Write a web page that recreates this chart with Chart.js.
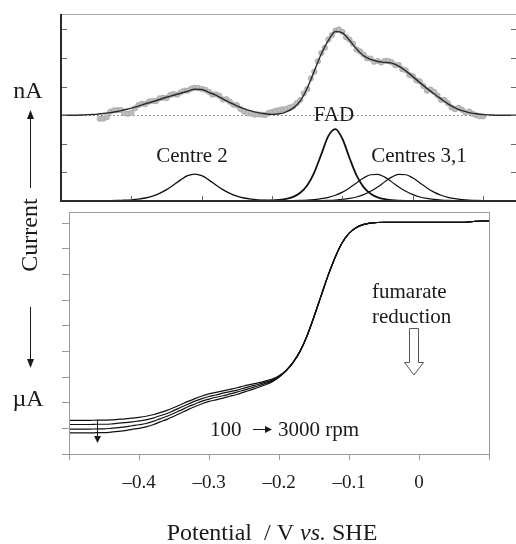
<!DOCTYPE html>
<html>
<head>
<meta charset="utf-8">
<script src="https://cdn.jsdelivr.net/npm/chart.js@4.4.1/dist/chart.umd.min.js"></script>
<style>
  html, body { margin: 0; padding: 0; background: #fff; overflow: hidden; }
  #wrap { position: relative; width: 516px; height: 544px; overflow: hidden; }
  canvas { position: absolute; left: 0; top: 0; }
</style>
</head>
<body>
<div id="wrap">
  <canvas id="topChart" width="530" height="544"></canvas>
  <canvas id="bottomChart" width="516" height="544"></canvas>
</div>
<script>
// ---- top panel: baseline-subtracted voltammogram (nA) ----
const gridE = [
  -0.50, -0.49, -0.48, -0.47, -0.46, -0.45, -0.44, -0.43, -0.42, -0.41,
  -0.40, -0.39, -0.38, -0.37, -0.36, -0.35, -0.34, -0.33, -0.32, -0.31,
  -0.30, -0.29, -0.28, -0.27, -0.26, -0.25, -0.24, -0.23, -0.22, -0.21,
  -0.20, -0.19, -0.18, -0.17, -0.16, -0.15, -0.14, -0.13, -0.12, -0.11,
  -0.10, -0.09, -0.08, -0.07, -0.06, -0.05, -0.04, -0.03, -0.02, -0.01,
  0.00, 0.01, 0.02, 0.03, 0.04, 0.05, 0.06, 0.07, 0.08, 0.09,
  0.10, 0.11, 0.12, 0.13, 0.14, 0.15
];
const fitCurrent = [
  3.00, 3.00, 3.00, 3.01, 3.02, 3.03, 3.06, 3.09, 3.13, 3.19,
  3.25, 3.32, 3.40, 3.47, 3.55, 3.63, 3.70, 3.77, 3.84, 3.91,
  3.90, 3.80, 3.70, 3.57, 3.44, 3.33, 3.23, 3.15, 3.09, 3.05,
  3.03, 3.05, 3.12, 3.25, 3.50, 3.95, 4.55, 5.15, 5.62, 5.93,
  5.88, 5.62, 5.32, 5.08, 4.95, 4.88, 4.85, 4.82, 4.72, 4.55,
  4.35, 4.14, 3.94, 3.75, 3.57, 3.40, 3.26, 3.16, 3.09, 3.05,
  3.02, 3.01, 3.00, 3.00, 3.00, 3.00
];
const centre2 = [
  0, 0, 0.001, 0.001, 0.002, 0.003, 0.006, 0.009, 0.015, 0.025,
  0.041, 0.066, 0.107, 0.170, 0.264, 0.395, 0.561, 0.739, 0.884, 0.940,
  0.884, 0.739, 0.561, 0.395, 0.264, 0.170, 0.107, 0.066, 0.041, 0.025,
  0.015, 0.009, 0.006, 0.003, 0.002, 0.001, 0, 0, 0, 0,
  0, 0, 0, 0, 0, 0, 0, 0, 0, 0,
  0, 0, 0, 0, 0, 0, 0, 0, 0, 0,
  0, 0, 0, 0, 0, 0
];
const fad = [
  0, 0, 0, 0, 0, 0, 0, 0, 0, 0,
  0, 0, 0, 0, 0, 0, 0, 0, 0, 0,
  0, 0, 0, 0, 0, 0, 0.001, 0.002, 0.004, 0.009,
  0.017, 0.036, 0.072, 0.145, 0.287, 0.551, 1.005, 1.640, 2.277, 2.517,
  2.168, 1.503, 0.896, 0.486, 0.251, 0.126, 0.062, 0.031, 0.015, 0.007,
  0.004, 0.002, 0.001, 0.001, 0, 0, 0, 0, 0, 0,
  0, 0, 0, 0, 0, 0
];
const centre3 = [
  0, 0, 0, 0, 0, 0, 0, 0, 0, 0,
  0, 0, 0, 0, 0, 0, 0, 0, 0, 0,
  0, 0, 0, 0, 0, 0, 0, 0, 0, 0.001,
  0.002, 0.004, 0.007, 0.011, 0.019, 0.030, 0.050, 0.080, 0.129, 0.203,
  0.311, 0.458, 0.633, 0.804, 0.919, 0.931, 0.834, 0.669, 0.491, 0.338,
  0.222, 0.141, 0.089, 0.055, 0.034, 0.021, 0.013, 0.008, 0.005, 0.003,
  0.002, 0.001, 0.001, 0, 0, 0
];
const centre1 = [
  0, 0, 0, 0, 0, 0, 0, 0, 0, 0,
  0, 0, 0, 0, 0, 0, 0, 0, 0, 0,
  0, 0, 0, 0, 0, 0, 0, 0, 0, 0,
  0, 0, 0.001, 0.002, 0.003, 0.005, 0.008, 0.013, 0.021, 0.034,
  0.055, 0.089, 0.141, 0.222, 0.338, 0.491, 0.669, 0.834, 0.931, 0.919,
  0.804, 0.633, 0.458, 0.311, 0.203, 0.129, 0.080, 0.050, 0.030, 0.019,
  0.011, 0.007, 0.004, 0.003, 0.002, 0.001
];
const dataE = [
  -0.445, -0.440, -0.435, -0.430, -0.425, -0.420, -0.415, -0.410, -0.405, -0.400,
  -0.395, -0.390, -0.385, -0.380, -0.375, -0.370, -0.365, -0.360, -0.355, -0.350,
  -0.345, -0.340, -0.335, -0.330, -0.325, -0.320, -0.315, -0.310, -0.305, -0.300,
  -0.295, -0.290, -0.285, -0.280, -0.275, -0.270, -0.265, -0.260, -0.255, -0.250,
  -0.245, -0.240, -0.235, -0.230, -0.225, -0.220, -0.215, -0.210, -0.205, -0.200,
  -0.195, -0.190, -0.185, -0.180, -0.175, -0.170, -0.165, -0.160, -0.155, -0.150,
  -0.145, -0.140, -0.135, -0.130, -0.125, -0.120, -0.115, -0.110, -0.105, -0.100,
  -0.095, -0.090, -0.085, -0.080, -0.075, -0.070, -0.065, -0.060, -0.055, -0.050,
  -0.045, -0.040, -0.035, -0.030, -0.025, -0.020, -0.015, -0.010, -0.005, 0.000,
  0.005, 0.010, 0.015, 0.020, 0.025, 0.030, 0.035, 0.040, 0.045, 0.050,
  0.055, 0.060, 0.065, 0.070, 0.075, 0.080, 0.085, 0.090, 0.095, 0.100
];
const dataCurrent = [
  2.88, 2.88, 2.93, 3.12, 3.17, 3.18, 3.18, 3.07, 3.05, 3.09,
  3.24, 3.35, 3.40, 3.39, 3.48, 3.50, 3.49, 3.59, 3.61, 3.60,
  3.70, 3.74, 3.72, 3.80, 3.86, 3.86, 3.93, 3.96, 3.95, 3.92,
  3.89, 3.82, 3.72, 3.73, 3.68, 3.55, 3.56, 3.47, 3.37, 3.35,
  3.22, 3.13, 3.07, 3.06, 3.02, 3.03, 3.02, 3.01, 3.08, 3.11,
  3.16, 3.18, 3.21, 3.22, 3.27, 3.31, 3.42, 3.53, 3.76, 3.92,
  4.29, 4.52, 4.89, 5.18, 5.36, 5.65, 5.80, 5.96, 6.00, 5.91,
  5.73, 5.64, 5.50, 5.30, 5.23, 5.12, 4.99, 4.98, 4.87, 4.90,
  4.84, 4.90, 4.90, 4.85, 4.75, 4.76, 4.61, 4.57, 4.41, 4.37,
  4.22, 4.18, 4.02, 3.86, 3.90, 3.82, 3.69, 3.54, 3.53, 3.42,
  3.27, 3.21, 3.26, 3.19, 3.09, 3.13, 3.05, 3.00, 2.96, 2.96
];
const topBaseline = 3;
const topXTicks = [-0.4, -0.3, -0.2, -0.1, 0, 0.1];
const topYTicks = [1, 2, 3, 4, 5, 6];

// ---- bottom panel: rotating-disc catalytic voltammograms (uA) ----
const sweepE = [
  -0.50, -0.49, -0.48, -0.47, -0.46, -0.45, -0.44, -0.43, -0.42, -0.41,
  -0.40, -0.39, -0.38, -0.37, -0.36, -0.35, -0.34, -0.33, -0.32, -0.31,
  -0.30, -0.29, -0.28, -0.27, -0.26, -0.25, -0.24, -0.23, -0.22, -0.21,
  -0.20, -0.19, -0.18, -0.17, -0.16, -0.15, -0.14, -0.13, -0.12, -0.11,
  -0.10, -0.09, -0.08, -0.07, -0.06, -0.05, -0.04, -0.03, -0.02, -0.01,
  0.00, 0.01, 0.02, 0.03, 0.04, 0.05, 0.06, 0.07, 0.08, 0.09,
  0.10
];
const sweep100 = [
  1.31, 1.31, 1.31, 1.31, 1.32, 1.32, 1.33, 1.35, 1.37, 1.40,
  1.43, 1.47, 1.53, 1.61, 1.70, 1.81, 1.93, 2.05, 2.16, 2.26,
  2.34, 2.40, 2.46, 2.52, 2.58, 2.65, 2.71, 2.77, 2.84, 2.92,
  3.05, 3.26, 3.57, 4.00, 4.60, 5.35, 6.15, 6.95, 7.65, 8.22,
  8.60, 8.82, 8.94, 9.00, 9.02, 9.03, 9.03, 9.03, 9.03, 9.03,
  9.03, 9.03, 9.03, 9.03, 9.03, 9.03, 9.03, 9.04, 9.07, 9.08,
  9.08
];
const sweepMid1 = [
  1.15, 1.15, 1.15, 1.15, 1.16, 1.16, 1.17, 1.20, 1.22, 1.25,
  1.29, 1.33, 1.40, 1.49, 1.58, 1.70, 1.82, 1.94, 2.06, 2.16,
  2.24, 2.30, 2.37, 2.43, 2.49, 2.57, 2.64, 2.71, 2.79, 2.88,
  3.03, 3.25, 3.57, 4.00, 4.60, 5.35, 6.15, 6.95, 7.65, 8.22,
  8.60, 8.82, 8.94, 9.00, 9.02, 9.03, 9.03, 9.03, 9.03, 9.03,
  9.03, 9.03, 9.03, 9.03, 9.03, 9.03, 9.03, 9.04, 9.07, 9.08,
  9.08
];
const sweepMid2 = [
  0.97, 0.97, 0.97, 0.97, 0.98, 0.98, 1.00, 1.03, 1.06, 1.10,
  1.14, 1.19, 1.27, 1.37, 1.47, 1.59, 1.71, 1.84, 1.95, 2.06,
  2.14, 2.21, 2.27, 2.34, 2.41, 2.49, 2.57, 2.65, 2.74, 2.85,
  3.01, 3.24, 3.56, 4.00, 4.60, 5.35, 6.15, 6.95, 7.65, 8.22,
  8.60, 8.82, 8.94, 9.00, 9.02, 9.03, 9.03, 9.03, 9.03, 9.03,
  9.03, 9.03, 9.03, 9.03, 9.03, 9.03, 9.03, 9.04, 9.07, 9.08,
  9.08
];
const sweep3000 = [
  0.82, 0.82, 0.82, 0.82, 0.83, 0.83, 0.85, 0.88, 0.91, 0.96,
  1.00, 1.06, 1.14, 1.25, 1.35, 1.47, 1.60, 1.73, 1.85, 1.96,
  2.05, 2.11, 2.18, 2.25, 2.32, 2.41, 2.50, 2.59, 2.69, 2.81,
  2.99, 3.23, 3.56, 4.00, 4.60, 5.35, 6.15, 6.95, 7.65, 8.22,
  8.60, 8.82, 8.94, 9.00, 9.02, 9.03, 9.03, 9.03, 9.03, 9.03,
  9.03, 9.03, 9.03, 9.03, 9.03, 9.03, 9.03, 9.04, 9.07, 9.08,
  9.08
];
const bottomXTicks = [-0.5, -0.4, -0.3, -0.2, -0.1, 0, 0.1];
const bottomXLabels = ['', '\u20130.4', '\u20130.3', '\u20130.2', '\u20130.1', '0', ''];
const bottomYTicks = [0, 1, 2, 3, 4, 5, 6, 7, 8, 9];

const SERIF = '"Liberation Serif", "Times New Roman", serif';
const INK = '#1a1a1a';

const pts = (xs, ys) => xs.map((x, i) => ({ x: x, y: ys[i] }));

function arrow(ctx, x, y0, y1, head, half) {
    const dir = Math.sign(y1 - y0);
    ctx.beginPath();
    ctx.moveTo(x, y0);
    ctx.lineTo(x, y1 - dir * head);
    ctx.stroke();
    ctx.beginPath();
    ctx.moveTo(x, y1);
    ctx.lineTo(x - half, y1 - dir * head);
    ctx.lineTo(x + half, y1 - dir * head);
    ctx.closePath();
    ctx.fill();
}

const lineStyle = (width, color) => ({
    borderColor: color,
    borderWidth: width,
    pointRadius: 0,
    fill: false,
    cubicInterpolationMode: 'monotone'
});

// frame, ticks and words for the upper panel
const topFrame = {
    id: 'topFrame',
    beforeDatasetsDraw(chart) {
        const { ctx, chartArea: a, scales: { y } } = chart;
        const yb = Math.round(y.getPixelForValue(topBaseline)) + 0.5;
        ctx.save();
        ctx.strokeStyle = '#6e6e6e';
        ctx.lineWidth = 1;
        ctx.setLineDash([1.5, 2.5]);
        ctx.beginPath();
        ctx.moveTo(a.left, yb);
        ctx.lineTo(a.right, yb);
        ctx.stroke();
        ctx.restore();
    },
    afterDraw(chart) {
        const { ctx, chartArea: a, scales: { x, y } } = chart;
        ctx.save();
        ctx.strokeStyle = '#a8a8a8';
        ctx.lineWidth = 1;
        ctx.beginPath();
        ctx.moveTo(a.left, a.top + 0.5);
        ctx.lineTo(a.right, a.top + 0.5);
        ctx.stroke();

        ctx.strokeStyle = '#666';
        topYTicks.forEach(v => {
            const py = Math.round(y.getPixelForValue(v)) + 0.5;
            ctx.beginPath();
            ctx.moveTo(a.left, py);
            ctx.lineTo(a.left + 6, py);
            ctx.moveTo(a.right - 6, py);
            ctx.lineTo(a.right, py);
            ctx.stroke();
        });
        topXTicks.forEach(v => {
            const px = Math.round(x.getPixelForValue(v)) + 0.5;
            ctx.beginPath();
            ctx.moveTo(px, a.bottom);
            ctx.lineTo(px, a.bottom - 5);
            ctx.stroke();
        });

        ctx.strokeStyle = '#2b2b2b';
        ctx.lineWidth = 2;
        ctx.beginPath();
        ctx.moveTo(a.left, a.top);
        ctx.lineTo(a.left, a.bottom);
        ctx.lineTo(a.right, a.bottom);
        ctx.stroke();

        ctx.fillStyle = INK;
        ctx.textAlign = 'center';
        ctx.textBaseline = 'alphabetic';
        ctx.font = '21px ' + SERIF;
        ctx.fillText('Centre 2', 192, 162);
        ctx.fillText('FAD', 334, 121);
        ctx.fillText('Centres 3,1', 419, 162);

        // shared left-hand label
        ctx.font = '24px ' + SERIF;
        ctx.fillText('nA', 28, 98);
        ctx.strokeStyle = INK;
        ctx.lineWidth = 1;
        arrow(ctx, 30.5, 188, 110, 9, 3.5);
        ctx.save();
        ctx.translate(37, 235);
        ctx.rotate(-Math.PI / 2);
        ctx.fillText('Current', 0, 0);
        ctx.restore();
        ctx.restore();
    }
};

// box, notes and axis title for the lower panel
const bottomFrame = {
    id: 'bottomFrame',
    afterDraw(chart) {
        const { ctx, chartArea: a } = chart;
        ctx.save();
        ctx.strokeStyle = '#9a9a9a';
        ctx.lineWidth = 1;
        ctx.strokeRect(a.left + 0.5, a.top + 0.5, a.right - a.left, a.bottom - a.top);

        ctx.fillStyle = INK;
        ctx.textBaseline = 'alphabetic';
        ctx.font = '21px ' + SERIF;
        ctx.textAlign = 'left';
        ctx.fillText('fumarate', 372, 298);
        ctx.fillText('reduction', 372, 323);
        ctx.fillText('100', 210, 436);
        ctx.fillText('3000 rpm', 278, 436);

        // thin right arrow between the rotation rates
        ctx.strokeStyle = INK;
        ctx.lineWidth = 1;
        ctx.beginPath();
        ctx.moveTo(253, 429.5);
        ctx.lineTo(270, 429.5);
        ctx.stroke();
        ctx.beginPath();
        ctx.moveTo(272, 429.5);
        ctx.lineTo(265, 426);
        ctx.lineTo(265, 433);
        ctx.closePath();
        ctx.fill();

        // hollow arrow under "fumarate reduction"
        ctx.strokeStyle = '#555';
        ctx.fillStyle = '#fff';
        ctx.beginPath();
        ctx.moveTo(409.5, 328.5);
        ctx.lineTo(418.5, 328.5);
        ctx.lineTo(418.5, 362.5);
        ctx.lineTo(423.5, 362.5);
        ctx.lineTo(414, 375);
        ctx.lineTo(404.5, 362.5);
        ctx.lineTo(409.5, 362.5);
        ctx.closePath();
        ctx.fill();
        ctx.stroke();

        ctx.fillStyle = INK;
        ctx.strokeStyle = INK;
        arrow(ctx, 97.5, 420, 443, 7, 3.5);
        arrow(ctx, 30.5, 307, 368, 9, 3.5);

        ctx.font = '24px ' + SERIF;
        ctx.textAlign = 'center';
        ctx.fillText('\u00b5A', 28, 406);

        // axis title with italic "vs."
        const parts = [['Potential  / V ', false], ['vs.', true], [' SHE', false]];
        let total = 0;
        parts.forEach(p => {
            ctx.font = (p[1] ? 'italic ' : '') + '24px ' + SERIF;
            total += ctx.measureText(p[0]).width;
        });
        let cx = 272 - total / 2;
        ctx.textAlign = 'left';
        parts.forEach(p => {
            ctx.font = (p[1] ? 'italic ' : '') + '24px ' + SERIF;
            ctx.fillText(p[0], cx, 540);
            cx += ctx.measureText(p[0]).width;
        });
        ctx.restore();
    }
};

new Chart(document.getElementById('topChart'), {
    type: 'line',
    data: {
        datasets: [
            { data: pts(gridE, fitCurrent), ...lineStyle(1.4, '#2a2a2a') },
            { data: pts(gridE, centre2), ...lineStyle(1.4, '#111') },
            { data: pts(gridE, fad), ...lineStyle(1.8, '#111') },
            { data: pts(gridE, centre3), ...lineStyle(1.2, '#111') },
            { data: pts(gridE, centre1), ...lineStyle(1.2, '#111') },
            {
                data: pts(dataE, dataCurrent),
                showLine: false,
                pointRadius: 2.7,
                pointHoverRadius: 0,
                pointBackgroundColor: '#bdbdbd',
                pointBorderColor: '#a2a2a2',
                pointBorderWidth: 0.7
            }
        ]
    },
    options: {
        responsive: false,
        animation: false,
        events: [],
        layout: { padding: { left: 61, right: 13, top: 14, bottom: 343 } },
        plugins: { legend: { display: false }, tooltip: { enabled: false } },
        scales: {
            x: { type: 'linear', display: false, min: -0.5, max: 0.148 },
            y: { type: 'linear', display: false, min: 0, max: 6.54 }
        }
    },
    plugins: [topFrame]
});

new Chart(document.getElementById('bottomChart'), {
    type: 'line',
    data: {
        datasets: [
            { data: pts(sweepE, sweep100), ...lineStyle(1.2, '#111') },
            { data: pts(sweepE, sweepMid1), ...lineStyle(1.2, '#111') },
            { data: pts(sweepE, sweepMid2), ...lineStyle(1.2, '#111') },
            { data: pts(sweepE, sweep3000), ...lineStyle(1.2, '#111') }
        ]
    },
    options: {
        responsive: false,
        animation: false,
        events: [],
        layout: { padding: { left: 0, right: 27, top: 212, bottom: 0 } },
        plugins: { legend: { display: false }, tooltip: { enabled: false } },
        scales: {
            x: {
                type: 'linear',
                min: -0.5,
                max: 0.1,
                afterFit: s => { s.height = 90; },
                afterBuildTicks: s => { s.ticks = bottomXTicks.map(v => ({ value: v })); },
                border: { display: false },
                grid: { drawOnChartArea: false, drawTicks: true, tickLength: 6, color: '#999' },
                ticks: {
                    autoSkip: false,
                    maxRotation: 0,
                    padding: 12,
                    color: INK,
                    font: { family: 'Liberation Serif', size: 19 },
                    callback: (v, i) => bottomXLabels[i]
                }
            },
            y: {
                type: 'linear',
                min: 0,
                max: 9.43,
                afterFit: s => { s.width = 69; },
                afterBuildTicks: s => { s.ticks = bottomYTicks.map(v => ({ value: v })); },
                border: { display: false },
                grid: { drawOnChartArea: false, drawTicks: true, tickLength: 7, color: '#999' },
                ticks: { display: false }
            }
        }
    },
    plugins: [bottomFrame]
});
</script>
</body>
</html>
